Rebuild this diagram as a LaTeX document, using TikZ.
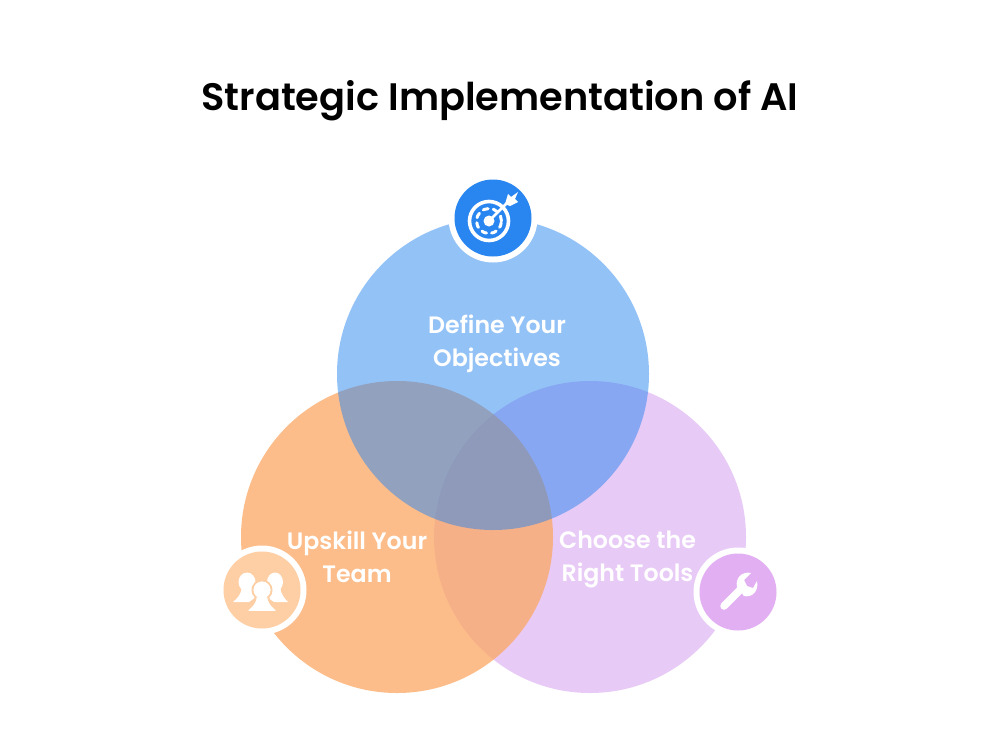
\documentclass[tikz,border=0pt]{standalone}
\usepackage{fontspec}
\setmainfont{Poppins}[BoldFont=* SemiBold]
\definecolor{cblue}{HTML}{2986F0}
\definecolor{corange}{HTML}{FCA863}
\definecolor{cpurple}{HTML}{D9A8F0}
\definecolor{iorange}{HTML}{FECEA4}
\definecolor{ipurple}{HTML}{E2AFF2}
\tikzset{
  bigcirc/.style={circle,minimum size=312pt,inner sep=0pt,outer sep=0pt},
  ring/.style={circle,fill=white,minimum size=89pt,inner sep=0pt},
  badge/.style={circle,minimum size=77pt,inner sep=0pt},
  lbl/.style={text=white,font=\fontsize{23.7}{33}\selectfont\bfseries,align=center,inner sep=0pt},
  ttl/.style={text=black,font=\fontsize{38.3}{48}\selectfont\bfseries,inner sep=0pt}
}
\begin{document}
\begin{tikzpicture}[x=1pt,y=-1pt]
\useasboundingbox (0,0) rectangle (1000,750);
\fill[white] (0,0) rectangle (1000,750);
\node[ttl] (title) at (500,101) {Strategic Implementation of AI};
\node[bigcirc,fill=cpurple,fill opacity=.6] (cp) at (590,537) {};
\node[bigcirc,fill=corange,fill opacity=.75] (co) at (397,537) {};
\node[bigcirc,fill=cblue,fill opacity=.5] (cb) at (493,374) {};
\node[lbl] (tb) at (497,344) {Define Your\\Objectives};
\node[lbl] (to) at (357,557) {Upskill Your\\Team};
\node[lbl] (tp) at (627.5,559.5) {Choose the\\Right Tools};
\node[ring] (rb) at (493,218) {};
\node[ring] (ro) at (262,590) {};
\node[ring] (rp) at (738,592) {};
\node[badge,fill=cblue] (ib) at (493,218) {};
\node[badge,fill=iorange] (io) at (262,590) {};
\node[badge,fill=ipurple] (ip) at (738,592) {};
% target icon
\begin{scope}[white,line cap=round]
\draw[line width=3.6pt] (489,221) circle (19.5pt);
\draw[line width=3pt,dash pattern=on 5pt off 5.2pt] (489,221) circle (12.5pt);
\fill (489,221) circle (5.5pt);
\draw[line width=2.6pt] (489,221) -- (509,201);
\fill (505,204) -- (508,194) -- (511,197) -- (518,192) -- (515,199) -- (518,202) -- (510,206) -- cycle;
\end{scope}
% team icon
\begin{scope}[white]
\fill (247,582) ellipse (8.5pt and 9.5pt);
\fill (275,582) ellipse (8pt and 9.5pt);
\fill (233,602) .. controls (238,598) and (241,594) .. (242,587) -- (252,587) -- (256,597) -- (249,602) -- cycle;
\fill (288,602) .. controls (284,598) and (281,594) .. (280,587) -- (270,587) -- (267,597) -- (274,602) -- cycle;
\draw[iorange,line width=2pt,fill=white] (262,590) ellipse (9.5pt and 9.5pt);
\draw[iorange,line width=2pt,fill=white] (247,612) -- (248,609) .. controls (253,605) and (255,602) .. (256,596) -- (268,596) .. controls (269,602) and (271,605) .. (276,609) -- (277,612) -- cycle;
\fill (262,590) ellipse (8.5pt and 8.5pt);
\end{scope}
% wrench icon
\begin{scope}[white]
\draw[line width=7.5pt,line cap=round] (724,606) -- (741,589);
\fill (737,587) .. controls (735,578) and (742,571) .. (751,573) -- (744,580) -- (747,586) -- (753,588) -- (757,581) .. controls (759,590) and (753,598) .. (744,596) -- cycle;
\end{scope}
\end{tikzpicture}
\end{document}
